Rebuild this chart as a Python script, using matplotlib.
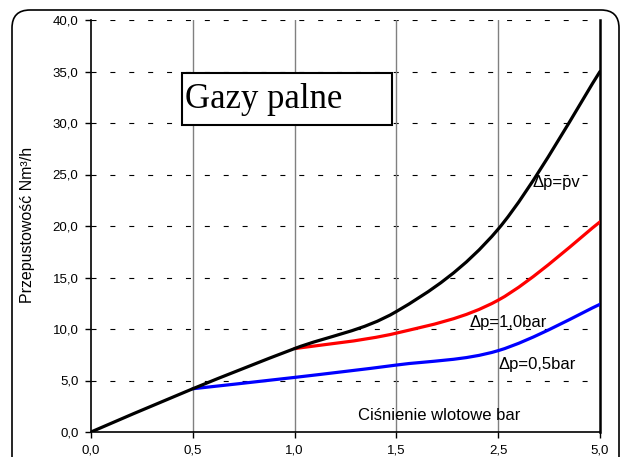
import numpy as np
import matplotlib
matplotlib.use("Agg")
import matplotlib.pyplot as plt
import matplotlib.patches as mpatches
from matplotlib.path import Path
from matplotlib.transforms import IdentityTransform

plt.rcParams['font.family'] = ['Liberation Sans', 'DejaVu Sans']
plt.rcParams['lines.scale_dashes'] = False

# data
cisnienie = [0.0, 0.5, 1.0, 1.5, 2.5, 5.0]        # bar (categories, equally spaced)
pv = [0.0, 4.2, 8.1, 11.7, 19.7, 35.0]            # dp = pv
dp_10 = [None, None, 8.1, 9.6, 12.8, 20.4]        # dp = 1,0 bar
dp_05 = [None, 4.2, 5.3, 6.5, 7.9, 12.4]          # dp = 0,5 bar
y_ticks = [0, 5, 10, 15, 20, 25, 30, 35, 40]


def smooth_path(xs, ys):
    # excel style smoothed line: bezier through every point
    pts = np.column_stack([xs, ys]).astype(float)
    verts = [pts[0]]
    codes = [Path.MOVETO]
    n = len(pts)
    for i in range(n - 1):
        p0 = pts[max(i - 1, 0)]
        p1 = pts[i]
        p2 = pts[i + 1]
        p3 = pts[min(i + 2, n - 1)]
        c1 = p1 + (p2 - p0) / 6.0
        c2 = p2 - (p3 - p1) / 6.0
        verts += [c1, c2, p2]
        codes += [Path.CURVE4] * 3
    return Path(verts, codes)


def add_series(ax, vals, color):
    idx = [i for i, v in enumerate(vals) if v is not None]
    ys = [vals[i] for i in idx]
    patch = mpatches.PathPatch(smooth_path(idx, ys), facecolor='none',
                               edgecolor=color, lw=2.3, zorder=4,
                               capstyle='round', joinstyle='round')
    ax.add_patch(patch)


fig = plt.figure(figsize=(6.22, 4.57), dpi=100)
ax = fig.add_axes([91 / 622, 1 - 432 / 457, 509 / 622, 412 / 457])

xs = np.arange(len(cisnienie))
ax.set_xlim(0, len(cisnienie) - 1)
ax.set_ylim(0, 40)

# grid
for y in y_ticks[1:]:
    ax.axhline(y, color='black', lw=0.8, dashes=(3.6, 10), zorder=1)
for x in xs[1:-1]:
    ax.axvline(x, color='#808080', lw=1.0, zorder=1)

add_series(ax, dp_05, '#0000FF')
add_series(ax, dp_10, '#FF0000')
add_series(ax, pv, 'black')

ax.set_xticks(xs)
ax.set_xticklabels([f"{v:.1f}".replace('.', ',') for v in cisnienie])
ax.set_yticks(y_ticks)
ax.set_yticklabels([f"{v:.1f}".replace('.', ',') for v in y_ticks])
ax.tick_params(direction='out', length=4, width=1, labelsize=9.5, pad=5)

ax.spines['top'].set_visible(False)
ax.spines['left'].set_linewidth(1.2)
ax.spines['bottom'].set_linewidth(1.2)
ax.spines['right'].set_linewidth(1.8)

# title box
box = mpatches.Rectangle((0.179, 0.745), 0.412, 0.126, transform=ax.transAxes,
                         facecolor='white', edgecolor='black', lw=1.5, zorder=5)
ax.add_patch(box)
ax.text(0.184, 0.806, "Gazy palne", transform=ax.transAxes, fontsize=25,
        family=['Liberation Serif', 'DejaVu Serif'], va='center', ha='left', zorder=6)

ax.text(4.34, 24.2, "Δp=pv", fontsize=12, va='center', ha='left', zorder=6)
ax.text(3.72, 10.6, "Δp=1,0bar", fontsize=12, va='center', ha='left', zorder=6)
ax.text(4.0, 6.6, "Δp=0,5bar", fontsize=12, va='center', ha='left', zorder=6)
ax.text(2.62, 1.65, "Ciśnienie wlotowe bar", fontsize=12, va='center', ha='left', zorder=6)

fig.text(28 / 622, 1 - 225 / 457, "Przepustowość Nm³/h", rotation=90,
         fontsize=11.5, va='center', ha='center')

# rounded frame round the whole chart
frame = mpatches.FancyBboxPatch((12, -30), 607, 477,
                                boxstyle="round,pad=0,rounding_size=18",
                                transform=IdentityTransform(), facecolor='none',
                                edgecolor='black', lw=1.2)
fig.add_artist(frame)

fig.savefig("out.png", dpi=100)
